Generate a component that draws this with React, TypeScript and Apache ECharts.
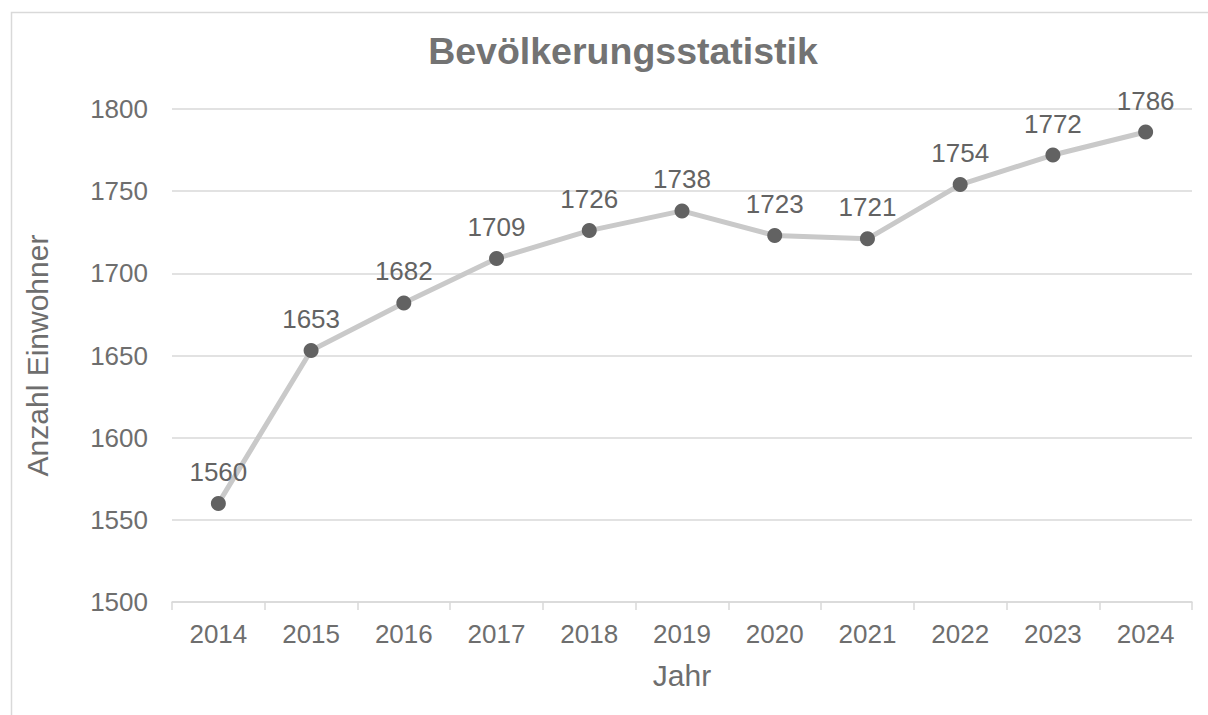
import React, { useEffect, useRef } from "react";
import * as echarts from "echarts";

const years = ["2014", "2015", "2016", "2017", "2018", "2019", "2020", "2021", "2022", "2023", "2024"];
const population = [1560, 1653, 1682, 1709, 1726, 1738, 1723, 1721, 1754, 1772, 1786];
const yMin = 1500;
const yMax = 1800;
const yStep = 50;

const FONT = "'Liberation Sans', Arial, sans-serif";
const TXT = "#6e6e6e";
const LBL = "#636363";
const GRID = "#d9d9d9";

export default function App() {
  const ref = useRef<HTMLDivElement>(null);
  useEffect(() => {
    if (!ref.current) return;
    const chart = echarts.init(ref.current, undefined, { renderer: "svg" });
    chart.setOption({
      animation: false,
      backgroundColor: "#ffffff",
      textStyle: { fontFamily: FONT },
      title: {
        text: "Bevölkerungsstatistik",
        left: 618,
        textAlign: "center",
        top: 27,
        textStyle: { fontFamily: FONT, fontSize: 37.5, fontWeight: "bold", color: "#737373" },
      },
      graphic: [
        {
          type: "rect",
          shape: { x: 11.5, y: 12.5, width: 1210, height: 720 },
          style: { fill: "none", stroke: GRID, lineWidth: 1.5 },
          silent: true,
        },
      ],
      grid: { left: 172, right: 16, top: 109, bottom: 113, containLabel: false },
      xAxis: {
        type: "category",
        data: years,
        boundaryGap: true,
        name: "Jahr",
        nameLocation: "middle",
        nameGap: 58,
        nameTextStyle: { fontFamily: FONT, fontSize: 30, color: TXT },
        axisLine: { show: true, lineStyle: { color: GRID, width: 1.5 } },
        axisTick: { show: true, length: 8, alignWithLabel: false, lineStyle: { color: GRID, width: 1.5 } },
        axisLabel: { fontFamily: FONT, fontSize: 26, color: TXT, margin: 19 },
        splitLine: { show: false },
      },
      yAxis: {
        type: "value",
        min: yMin,
        max: yMax,
        interval: yStep,
        name: "Anzahl Einwohner",
        nameLocation: "middle",
        nameGap: 120,
        nameTextStyle: { fontFamily: FONT, fontSize: 30, color: TXT },
        axisLine: { show: false },
        axisTick: { show: false },
        axisLabel: {
          fontFamily: FONT,
          fontSize: 26,
          color: TXT,
          margin: 24,
          formatter: (v: number) => String(v),
        },
        splitLine: { show: true, lineStyle: { color: GRID, width: 1.5 } },
      },
      series: [
        {
          type: "line",
          data: population,
          symbol: "circle",
          symbolSize: 15,
          lineStyle: { color: "#c9c9c9", width: 5 },
          itemStyle: { color: "#626262", borderWidth: 0 },
          label: {
            show: true,
            position: "top",
            distance: 11,
            fontFamily: FONT,
            fontSize: 26,
            color: LBL,
          },
          z: 3,
        },
      ],
    });
    return () => chart.dispose();
  }, []);
  return (
    <div
      ref={ref}
      style={{ position: "absolute", left: 0, top: 0, width: 1208, height: 715, background: "#fff" }}
    />
  );
}
